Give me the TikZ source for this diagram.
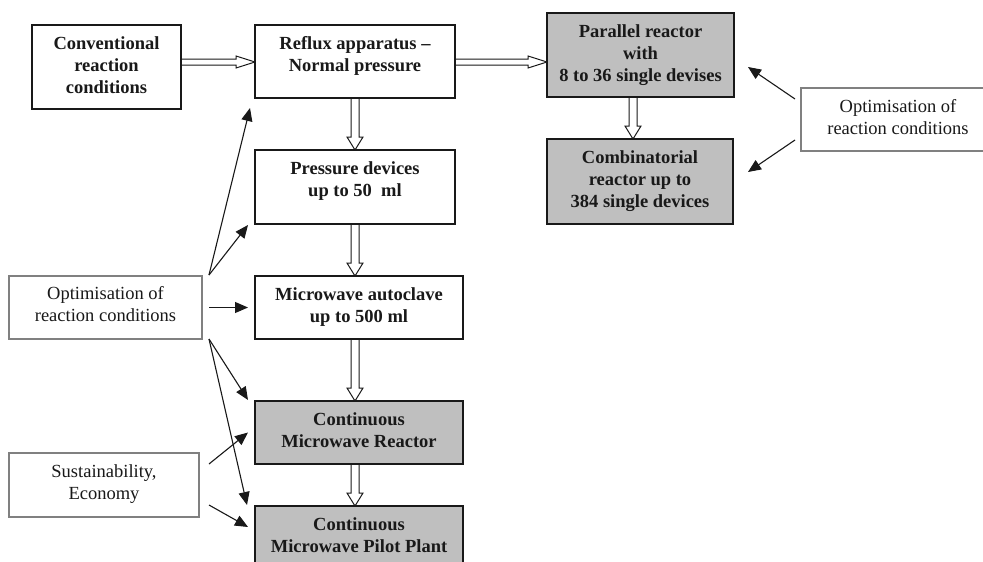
\documentclass[tikz,border=0pt]{standalone}
\usepackage{fontspec}
\setmainfont{Liberation Serif}
\usetikzlibrary{arrows.meta,calc}
\pgfdeclarelayer{bg}
\pgfsetlayers{bg,main}
\tikzset{
 boxbase/.style={rectangle, inner sep=0pt, outer sep=0pt},
 bbox/.style={boxbase, draw=black!90, line width=2pt, fill=white},
 gbox/.style={bbox, fill=black!25},
 lbox/.style={boxbase, draw=black!50, line width=1.3pt, fill=white},
 btxt/.style={anchor=north, yshift=-9.5pt, inner sep=0pt, align=center, font=\fontsize{18.5}{21.7}\selectfont\bfseries, text=black!90},
 rtxt/.style={btxt, font=\fontsize{18.5}{21.7}\selectfont},
 ptr/.style={line width=1.1pt, draw=black!90, -{Triangle[length=13pt,width=11pt]}},
 hollow/.style={line width=1pt, draw=black!90, fill=white},
}
\newcommand\vhol[3]{%
 \begin{pgfonlayer}{bg}
 \draw[hollow] let \p1=(#1.south), \p2=(#2.north), \p3=(#3,0) in
 (\x3-4pt,\y1) -- (\x3-4pt,\y2+13pt) -- (\x3-8pt,\y2+13pt) -- (\x3,\y2) -- (\x3+8pt,\y2+13pt) -- (\x3+4pt,\y2+13pt) -- (\x3+4pt,\y1);
 \end{pgfonlayer}}
\newcommand\hhol[3]{%
 \begin{pgfonlayer}{bg}
 \draw[hollow] let \p1=(#1.east), \p2=(#2.west), \p3=(0,#3) in
 (\x1,\y3+3pt) -- (\x2-19pt,\y3+3pt) -- (\x2-19pt,\y3+6pt) -- (\x2,\y3) -- (\x2-19pt,\y3-6pt) -- (\x2-19pt,\y3-3pt) -- (\x1,\y3-3pt);
 \end{pgfonlayer}}
\begin{document}
\begin{tikzpicture}[x=1pt,y=-1pt]
\useasboundingbox (0,0) rectangle (983,562);
\begin{pgfonlayer}{bg}
\fill[white] (0,0) rectangle (983,562);
\end{pgfonlayer}
\clip (0,0) rectangle (983,562);
% main column
\node[bbox, minimum width=149pt, minimum height=84pt, label={[btxt]north:{\rule{0pt}{15pt}Conventional\\reaction\\conditions}}] (conv) at (106.5,67) {};
\node[bbox, minimum width=200pt, minimum height=73pt, label={[btxt]north:{\rule{0pt}{15pt}Reflux apparatus –\\Normal pressure}}] (reflux) at (355,61.5) {};
\node[gbox, minimum width=187pt, minimum height=84pt, label={[btxt]north:{\rule{0pt}{15pt}Parallel reactor\\with\\8 to 36 single devises}}] (par) at (640.5,55) {};
\node[gbox, minimum width=186pt, minimum height=85pt, label={[btxt]north:{\rule{0pt}{15pt}Combinatorial\\reactor up to\\384 single devices}}] (comb) at (640,181.5) {};
\node[lbox, minimum width=194pt, minimum height=63pt, label={[rtxt]north:{\rule{0pt}{15pt}Optimisation of\\reaction conditions}}] (optR) at (898,119.5) {};
\node[bbox, minimum width=200pt, minimum height=74pt, label={[btxt]north:{\rule{0pt}{15pt}Pressure devices\\up to 50\ \ ml}}] (press) at (355,187) {};
\node[bbox, minimum width=208pt, minimum height=63pt, label={[btxt]north:{\rule{0pt}{15pt}Microwave autoclave\\up to 500 ml}}] (micro) at (359,307.5) {};
\node[gbox, minimum width=208pt, minimum height=63pt, label={[btxt]north:{\rule{0pt}{15pt}Continuous\\Microwave Reactor}}] (cont) at (359,432.5) {};
\node[gbox, minimum width=208pt, minimum height=63pt, label={[btxt]north:{\rule{0pt}{15pt}Continuous\\Microwave Pilot Plant}}] (pilot) at (359,537.5) {};
\node[lbox, minimum width=193pt, minimum height=63pt, label={[rtxt, yshift=1pt]north:{\rule{0pt}{15pt}Optimisation of\\reaction conditions}}] (optL) at (105.5,307.5) {};
\node[lbox, minimum width=190pt, minimum height=64pt, label={[rtxt]north:{\rule{0pt}{15pt}Sustainability,\\Economy}}] (sust) at (104,485) {};
% hollow arrows
\hhol{conv}{reflux}{62}
\hhol{reflux}{par}{62}
\vhol{reflux}{press}{355}
\vhol{press}{micro}{355}
\vhol{micro}{cont}{355}
\vhol{cont}{pilot}{355}
\vhol{par}{comb}{633}
% thin arrows
\draw[ptr] ([shift={(7,-1)}]optL.north east) -- ([shift={(-5,10)}]reflux.south west);
\draw[ptr] ([shift={(7,-1)}]optL.north east) -- ([shift={(-7,1)}]press.south west);
\draw[ptr] ([shift={(7,0)}]optL.east) -- ([shift={(-7,0)}]micro.west);
\draw[ptr] ([shift={(7,0)}]optL.south east) -- ([shift={(-7,-1)}]cont.north west);
\draw[ptr] ([shift={(7,0)}]optL.south east) -- ([shift={(-8,-1)}]pilot.north west);
\draw[ptr] ([shift={(10,11)}]sust.north east) -- ([shift={(-7,0)}]cont.west);
\draw[ptr] ([shift={(10,-12)}]sust.south east) -- ([shift={(-7,21)}]pilot.north west);
\draw[ptr] ([shift={(-6,-20.5)}]optR.west) -- ([shift={(14,12)}]par.east);
\draw[ptr] ([shift={(-6,20.5)}]optR.west) -- ([shift={(15,-9.5)}]comb.east);
\end{tikzpicture}
\end{document}
